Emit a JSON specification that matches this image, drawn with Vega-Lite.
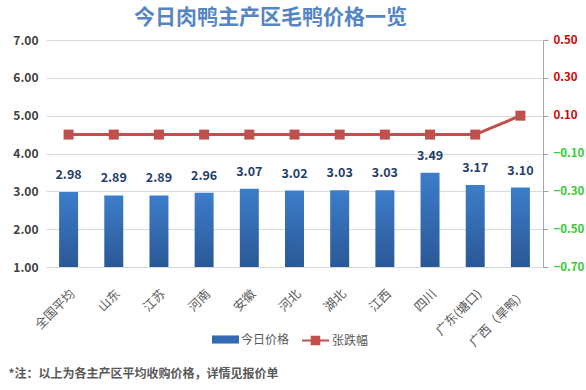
{
  "$schema": "https://vega.github.io/schema/vega-lite/v6.json",
  "autosize": "none",
  "width": 497,
  "height": 227,
  "padding": {"left": 46, "top": 40, "right": 43, "bottom": 123},
  "background": "white",
  "config": {
    "font": "Noto Sans CJK SC",
    "view": {"stroke": null}
  },
  "title": {
    "text": "今日肉鸭主产区毛鸭价格一览",
    "fontSize": 21,
    "fontWeight": "bold",
    "color": "#5585c3",
    "font": "Noto Sans CJK SC",
    "anchor": "middle",
    "dx": -24,
    "offset": 6
  },
  "data": {
    "values": [
      {"region": "全国平均", "price": 2.98, "change": 0.0},
      {"region": "山东", "price": 2.89, "change": 0.0},
      {"region": "江苏", "price": 2.89, "change": 0.0},
      {"region": "河南", "price": 2.96, "change": 0.0},
      {"region": "安徽", "price": 3.07, "change": 0.0},
      {"region": "河北", "price": 3.02, "change": 0.0},
      {"region": "湖北", "price": 3.03, "change": 0.0},
      {"region": "江西", "price": 3.03, "change": 0.0},
      {"region": "四川", "price": 3.49, "change": 0.0},
      {"region": "广东(塘口)", "price": 3.17, "change": 0.0},
      {"region": "广西（旱鸭）", "price": 3.10, "change": 0.1}
    ]
  },
  "encoding": {
    "x": {
      "field": "region",
      "type": "nominal",
      "sort": null,
      "scale": {"paddingInner": 0.58, "paddingOuter": 0.29},
      "axis": {
        "labelAngle": -45,
        "labelFontSize": 12.5,
        "labelColor": "#595959",
        "labelFont": "Noto Sans CJK SC",
        "ticks": false,
        "domain": true,
        "domainColor": "#d9d9d9",
        "labelPadding": 20,
        "title": "*注：以上为各主产区平均收购价格，详情见报价单",
        "titleFontSize": 12,
        "titleFontWeight": "bold",
        "titleColor": "#595959",
        "titleAnchor": "start",
        "titleAlign": "left",
        "titleBaseline": "middle",
        "titleX": -38,
        "titleY": 106
      }
    }
  },
  "layer": [
    {
      "encoding": {
        "y": {
          "field": "price",
          "type": "quantitative",
          "scale": {"domain": [1, 7], "zero": false, "nice": false},
          "axis": {
            "values": [1, 2, 3, 4, 5, 6, 7],
            "format": ".2f",
            "title": null,
            "domain": false,
            "ticks": false,
            "labelOverlap": false,
            "labelFontSize": 12,
            "labelFontWeight": "bold",
            "labelColor": "#404040",
            "gridColor": "#d9d9d9",
            "labelPadding": 8
          }
        }
      },
      "layer": [
        {
          "mark": {
            "type": "bar",
            "color": {"gradient": "linear", "x1": 0, "y1": 0, "x2": 0, "y2": 1,
                      "stops": [{"offset": 0, "color": "#3d7dcb"}, {"offset": 1, "color": "#2a5896"}]}
          },
          "encoding": {
            "y2": {"datum": 1}
          }
        },
        {
          "mark": {"type": "bar", "opacity": 0},
          "encoding": {
            "y2": {"datum": 1},
            "fill": {
              "datum": "今日价格",
              "type": "nominal",
              "scale": {"domain": ["今日价格"], "range": ["#3469b3"]},
              "legend": {
                "orient": "none",
                "legendX": 166,
                "legendY": 286,
                "title": null,
                "symbolType": "M-1,-0.3H1V0.3H-1Z",
                "symbolSize": 729,
                "symbolOpacity": 1,
                "symbolStrokeWidth": 0,
                "labelFontSize": 12,
                "labelColor": "#595959",
                "labelOffset": 2
              }
            }
          }
        },
        {
          "mark": {"type": "text", "baseline": "bottom", "dy": -10, "fontSize": 12.5, "fontWeight": "bold", "color": "#1f3d6b"},
          "encoding": {
            "text": {"field": "price", "type": "quantitative", "format": ".2f"}
          }
        }
      ]
    },
    {
      "encoding": {
        "y": {
          "field": "change",
          "type": "quantitative",
          "scale": {"domain": [-0.7, 0.5], "zero": false, "nice": false},
          "axis": {
            "orient": "right",
            "values": [0.5, 0.3, 0.1, -0.1, -0.3, -0.5, -0.7],
            "format": ".2f",
            "title": null,
            "grid": false,
            "domain": true,
            "domainColor": "#a6a6a6",
            "tickColor": "#a6a6a6",
            "tickSize": 5,
            "labelOverlap": false,
            "labelFontSize": 11.5,
            "labelFontWeight": "bold",
            "labelPadding": 5,
            "labelColor": {"condition": {"test": "datum.value < 0", "value": "#33cc33"}, "value": "#d00000"}
          }
        }
      },
      "layer": [
        {
          "mark": {"type": "line", "strokeWidth": 3},
          "encoding": {
            "stroke": {
              "datum": "张跌幅",
              "type": "nominal",
              "scale": {"domain": ["张跌幅"], "range": ["#c0504d"]},
              "legend": {
                "orient": "none",
                "legendX": 255,
                "legendY": 286,
                "title": null,
                "symbolType": "M-1,0H1M-0.28,-0.28H0.28V0.28H-0.28Z",
                "symbolSize": 729,
                "symbolStrokeWidth": 2,
                "symbolFillColor": "#c0504d",
                "labelFontSize": 12,
                "labelColor": "#595959",
                "labelOffset": 2
              }
            }
          }
        },
        {
          "mark": {"type": "point", "shape": "square", "filled": true, "size": 100, "color": "#c0504d", "opacity": 1},
          "encoding": {}
        }
      ]
    }
  ],
  "resolve": {"scale": {"y": "independent"}}
}
